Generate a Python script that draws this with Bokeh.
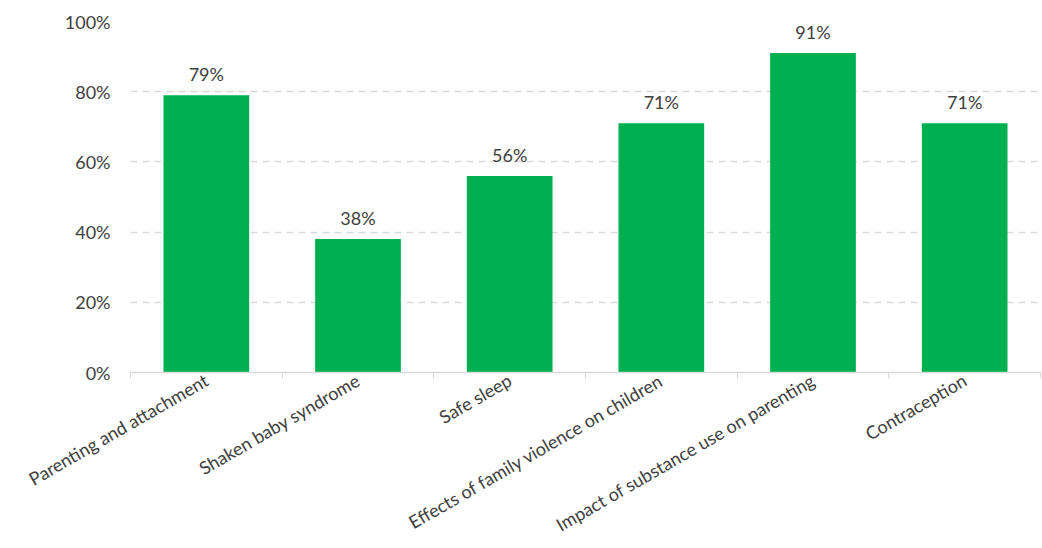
import math
from bokeh.plotting import figure
from bokeh.models import ColumnDataSource, FixedTicker, NumeralTickFormatter, Range1d
from bokeh.core.properties import value
from bokeh.embed import file_html
from bokeh.resources import INLINE

categories = ["Parenting and attachment", "Shaken baby syndrome", "Safe sleep",
              "Effects of family violence on children",
              "Impact of substance use on parenting", "Contraception"]
values = [0.79, 0.38, 0.56, 0.71, 0.91, 0.71]
value_labels = ["79%", "38%", "56%", "71%", "91%", "71%"]
y_ticks = [0, 0.2, 0.4, 0.6, 0.8, 1.0]

FONT = "Lato"
TXT = "#404040"

xpos = [i + 0.5 for i in range(len(categories))]
src = ColumnDataSource(dict(x=xpos, top=values, lab=value_labels))

p = figure(width=1042, height=548, output_backend="svg", toolbar_location=None,
           x_range=Range1d(0, len(categories)), y_range=Range1d(0, 1.0),
           min_border_left=130, min_border_right=2, min_border_top=21,
           min_border_bottom=172)
p.outline_line_color = None
p.background_fill_color = "white"
p.border_fill_color = "white"

p.vbar(x="x", top="top", width=0.565, bottom=0, source=src,
       fill_color="#00B050", line_color=None)
p.text(x="x", y="top", text="lab", source=src, y_offset=-10,
       text_align="center", text_baseline="bottom",
       text_font=value(FONT), text_font_size="18px", text_color=TXT)

# x axis: boundary ticks, category labels at centres
p.xaxis.ticker = FixedTicker(ticks=xpos, minor_ticks=list(range(len(categories) + 1)))
p.xaxis.major_label_overrides = {x: c for x, c in zip(xpos, categories)}
p.xaxis.major_label_orientation = math.pi / 6
p.xaxis.major_tick_line_color = None
p.xaxis.major_tick_out = 0
p.xaxis.major_tick_in = 0
p.xaxis.minor_tick_line_color = "#D9D9D9"
p.xaxis.minor_tick_out = 6
p.xaxis.minor_tick_in = 0
p.xaxis.axis_line_color = "#D9D9D9"
p.xaxis.axis_line_width = 1.5
p.xaxis.major_label_text_font = FONT
p.xaxis.major_label_text_font_size = "18px"
p.xaxis.major_label_text_line_height = 0.8
p.xaxis.major_label_text_color = TXT
p.xaxis.major_label_standoff = 0
p.xgrid.grid_line_color = None

# y axis
p.yaxis.ticker = FixedTicker(ticks=y_ticks)
p.yaxis.formatter = NumeralTickFormatter(format="0%")
p.yaxis.axis_line_color = None
p.yaxis.major_tick_line_color = None
p.yaxis.minor_tick_line_color = None
p.yaxis.major_label_text_font = FONT
p.yaxis.major_label_text_font_size = "18px"
p.yaxis.major_label_text_color = TXT
p.yaxis.major_label_standoff = 14
p.ygrid.grid_line_color = "#D9D9D9"
p.ygrid.grid_line_dash = "7 5"
p.ygrid.grid_line_width = 1.5

open("out.html", "w").write(file_html(p, INLINE))
